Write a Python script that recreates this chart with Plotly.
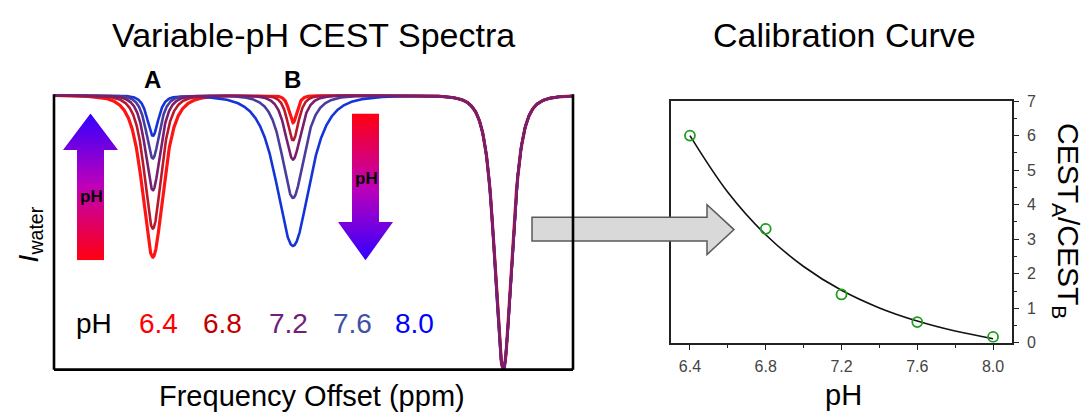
import base64
import numpy as np
import plotly.graph_objects as go

W, H = 1084, 418
FONT = "Liberation Sans, Arial, sans-serif"

# ---------------- Z-spectra (normalised water signal) ----------------
ph_levels = ["6.4", "6.8", "7.2", "7.6", "8.0"]
curve_colors = ["#FF1414", "#B8182C", "#781E6E", "#4A3C9C", "#1434D8"]
label_colors = ["#FF0000", "#C00000", "#70207A", "#4050A8", "#0000FF"]

shift_A = 10.0      # ppm
shift_B = 6.0       # ppm
shift_water = 0.0   # ppm

depth_A = [0.59, 0.486, 0.346, 0.23, 0.147]
halfwidth_A = [0.54, 0.44, 0.385, 0.34, 0.285]
depth_B = [0.10, 0.164, 0.234, 0.374, 0.549]
halfwidth_B = [0.20, 0.285, 0.40, 0.57, 0.855]
depth_water = 1.0
halfwidth_water = 0.45

# ---------------- calibration curve ----------------
cal_ph = [6.4, 6.8, 7.2, 7.6, 8.0]
cal_ratio = [6.0, 3.3, 1.4, 0.6, 0.17]
fit_ph = [6.4, 6.6, 6.8, 7.0, 7.2, 7.4, 7.6, 7.8, 8.0]
fit_ratio = [6.0, 4.36, 3.13, 2.21, 1.52, 1.01, 0.63, 0.34, 0.12]


def px(x):
    return x / W


def py(y):
    return 1 - y / H


def line_shape(offset, center, depth, hw):
    u = (offset - center) / hw
    return depth / (1 + u * u) ** 2


offset = np.linspace(12.82, -1.99, 2500)

fig = go.Figure()

# draw order: red underneath, purple on top
order = [0, 4, 3, 1, 2]
for i in order:
    z = 1 - (line_shape(offset, shift_A, depth_A[i], halfwidth_A[i])
             + line_shape(offset, shift_B, depth_B[i], halfwidth_B[i])
             + line_shape(offset, shift_water, depth_water, halfwidth_water))
    z = np.clip(z, 0, None)
    fig.add_trace(go.Scatter(
        x=offset, y=z, mode="lines", xaxis="x", yaxis="y",
        line=dict(color=curve_colors[i], width=3.2 if i == 0 else 2.6),
        hoverinfo="skip", showlegend=False))

fig.add_trace(go.Scatter(
    x=fit_ph, y=fit_ratio, mode="lines", line_shape="spline",
    line=dict(color="#111111", width=1.6), xaxis="x2", yaxis="y2",
    showlegend=False, hoverinfo="skip"))
fig.add_trace(go.Scatter(
    x=cal_ph, y=cal_ratio, mode="markers", xaxis="x2", yaxis="y2",
    marker=dict(symbol="circle-open", size=10, color="#1E9E1E",
                line=dict(width=1.8, color="#1E9E1E")),
    showlegend=False))


def svg_arrow(up):
    w, h = 55, 153
    if up:
        pts = "27.5,0 55,38 41,38 41,153 14,153 14,38 0,38"
        stops = [("0", "#3300FF"), ("0.5", "#C000B8"), ("1", "#FF0010")]
    else:
        pts = "14,0 41,0 41,113 55,113 27.5,153 0,113 14,113"
        stops = [("0", "#FF0010"), ("0.5", "#C000B8"), ("1", "#3300FF")]
    stop_xml = "".join(f'<stop offset="{o}" stop-color="{c}"/>' for o, c in stops)
    svg = (f'<svg xmlns="http://www.w3.org/2000/svg" width="{w}" height="{h}" '
           f'viewBox="0 0 {w} {h}"><defs><linearGradient id="g" x1="0" y1="0" '
           f'x2="0" y2="1">{stop_xml}</linearGradient></defs>'
           f'<polygon points="{pts}" fill="url(#g)"/></svg>')
    return "data:image/svg+xml;base64," + base64.b64encode(svg.encode()).decode()


images = [
    dict(source=svg_arrow(True), xref="paper", yref="paper", x=px(63), y=py(110),
         sizex=55 / W, sizey=153 / H, xanchor="left", yanchor="top",
         sizing="stretch", layer="above"),
    dict(source=svg_arrow(False), xref="paper", yref="paper", x=px(338), y=py(110),
         sizex=55 / W, sizey=153 / H, xanchor="left", yanchor="top",
         sizing="stretch", layer="above"),
]

# block arrow linking the two panels
ax0, ax1, ax2 = 532, 707, 734
ay0, ay1, aym, ay2, ay3 = 205, 218, 231, 243, 257
arrow_path = (f"M{px(ax0)},{py(ay1)} L{px(ax1)},{py(ay1)} L{px(ax1)},{py(ay0)} "
              f"L{px(ax2)},{py(aym)} L{px(ax1)},{py(ay3)} L{px(ax1)},{py(ay2)} "
              f"L{px(ax0)},{py(ay2)} Z")

shapes = [
    dict(type="path", path=arrow_path, xref="paper", yref="paper",
         fillcolor="#D9D9D9", line=dict(color="#5A5A5A", width=1.5), layer="above"),
]
# open frame of the spectra panel (left, bottom, right)
frame = dict(color="#000000", width=2.6)
shapes += [
    dict(type="line", xref="paper", yref="paper", x0=px(54), x1=px(54),
         y0=py(90), y1=py(377), line=frame, layer="above"),
    dict(type="line", xref="paper", yref="paper", x0=px(54), x1=px(573),
         y0=py(377), y1=py(377), line=frame, layer="above"),
    dict(type="line", xref="paper", yref="paper", x0=px(573), x1=px(573),
         y0=py(90), y1=py(377), line=frame, layer="above"),
]


def note(text, x, y, size, color="#000000", bold=False, angle=0):
    if bold:
        text = f"<b>{text}</b>"
    return dict(text=text, x=px(x), y=py(y), xref="paper", yref="paper",
                xanchor="center", yanchor="middle", showarrow=False,
                textangle=angle, font=dict(family=FONT, size=size, color=color))


annotations = [
    note("Variable-pH CEST Spectra", 313, 28, 34),
    note("Calibration Curve", 844, 28, 34),
    note("A", 152, 75, 24, bold=True),
    note("B", 292, 75, 24, bold=True),
    note("pH", 91, 197, 17, bold=True),
    note("pH", 366, 178, 17, bold=True),
    note("Frequency Offset (ppm)", 312, 404, 29),
    note("<i>I</i><sub>water</sub>", 30, 236, 28, angle=-90),
    note("pH", 94, 329, 28),
    note("pH", 843, 403, 29),
    note("CEST<sub>A</sub>/CEST<sub>B</sub>", 1066, 222, 30, angle=90),
]
label_x = [158, 222, 288, 352, 414]
for lab, col, xx in zip(ph_levels, label_colors, label_x):
    annotations.append(note(lab, xx, 329, 28, color=col))

hidden = dict(visible=False, showgrid=False, zeroline=False, fixedrange=True)

fig.update_layout(
    width=W, height=H, margin=dict(l=0, r=0, t=0, b=0),
    paper_bgcolor="white", plot_bgcolor="rgba(0,0,0,0)",
    font=dict(family=FONT, color="#000000"),
    xaxis=dict(domain=[px(54), px(573)], range=[12.82, -1.99], **hidden),
    yaxis=dict(domain=[py(377), py(90)], range=[0, 1.0035], **hidden),
    xaxis2=dict(domain=[px(671), px(1012)], range=[6.3, 8.1], anchor="y2",
                tickmode="linear", tick0=6.4, dtick=0.4, tickformat=".1f",
                ticks="outside", ticklen=5, tickwidth=1.3, tickcolor="#222",
                ticklabelstandoff=3,
                minor=dict(dtick=0.2, tick0=6.4, ticks="outside", ticklen=3,
                           tickcolor="#222"),
                showline=True, linecolor="#222", linewidth=1.5, mirror=True,
                showgrid=False, zeroline=False,
                tickfont=dict(family=FONT, size=16, color="#444")),
    yaxis2=dict(domain=[py(349), py(97)], range=[0, 7], anchor="x2", side="right",
                tickmode="linear", tick0=0, dtick=1,
                ticks="outside", ticklen=5, tickwidth=1.3, tickcolor="#222",
                ticklabelstandoff=5,
                minor=dict(dtick=0.5, tick0=0, ticks="outside", ticklen=3,
                           tickcolor="#222"),
                showline=True, linecolor="#222", linewidth=1.5, mirror=True,
                showgrid=False, zeroline=False,
                tickfont=dict(family=FONT, size=16, color="#444")),
    shapes=shapes, annotations=annotations, images=images,
)

fig.write_html("out.html")
